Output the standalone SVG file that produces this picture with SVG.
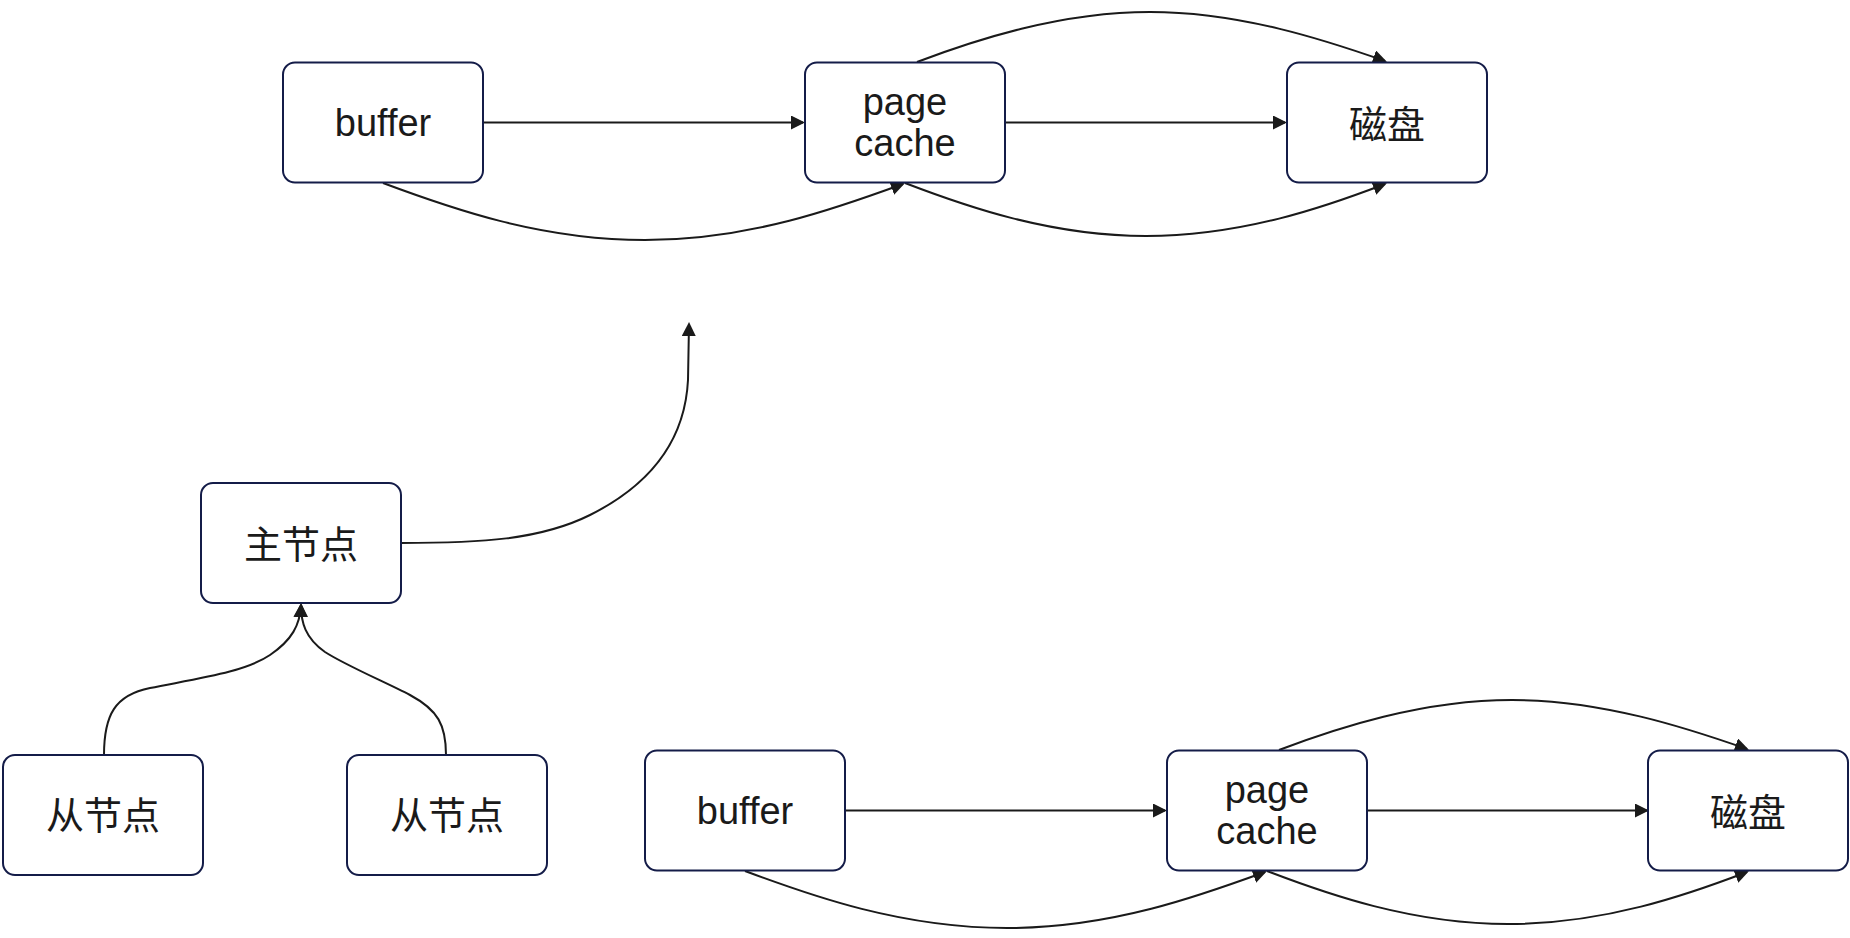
<svg xmlns="http://www.w3.org/2000/svg" width="1850" height="938" viewBox="0 0 1850 938">
<style>
.box{fill:#ffffff;stroke:#141c48;stroke-width:2}
.lbl{font-family:"Liberation Sans","Noto Sans CJK SC",sans-serif;font-size:38px;fill:#1a1a1a;text-anchor:middle}
.cjk{font-family:"Noto Sans CJK SC","Liberation Sans",sans-serif;font-size:38px;fill:#1a1a1a;text-anchor:middle}
.edge{fill:none;stroke:#1a1a1a;stroke-width:2;marker-end:url(#arr)}
</style>
<defs>
<marker id="arr" markerUnits="userSpaceOnUse" markerWidth="16" markerHeight="16" refX="12" refY="7" orient="auto">
<path d="M0,0 L14,7 L0,14 z" fill="#1a1a1a"/>
</marker>
</defs>
<rect width="1850" height="938" fill="#ffffff"/>
<g id="connectors">
<path class="edge" d="M483,122.5 L803,122.5"/>
<path class="edge" d="M1005,122.5 L1285,122.5"/>
<path class="edge" d="M383,183 C 450,208 540,240 645,240 C 750,240 840,207 903,184"/>
<path class="edge" d="M905,183 C 965,206 1050,236 1146,236 C 1242,236 1325,207 1385,184"/>
<path class="edge" d="M917,62 C 975,40 1060,12 1150,12 C 1240,12 1325,40 1385,61"/>
<path class="edge" d="M401,543 C 480,543 540,540 590,515 C 650,485 685,440 688,380 L 689,324"/>
<path class="edge" d="M104,755 C 104,715 115,695 150,688 C 200,678 245,672 270,655 C 292,640 300,625 301,605"/>
<path class="edge" d="M446,755 C 446,725 438,710 410,695 C 385,682 345,665 325,652 C 305,638 301,622 301,605"/>
<path class="edge" d="M845,810.5 L1165,810.5"/>
<path class="edge" d="M1367,810.5 L1647,810.5"/>
<path class="edge" d="M745,871 C 812,896 902,928 1007,928 C 1112,928 1202,895 1265,872"/>
<path class="edge" d="M1267,871 C 1327,894 1412,924 1508,924 C 1604,924 1687,895 1747,872"/>
<path class="edge" d="M1279,750 C 1337,728 1422,700 1512,700 C 1602,700 1687,728 1747,749"/>
</g>
<g id="buffer-top"><rect class="box" x="283" y="62.5" width="200" height="120" rx="12"/><text class="lbl" x="383" y="136">buffer</text></g>
<g id="pagecache-top"><rect class="box" x="805" y="62.5" width="200" height="120" rx="12"/><text class="lbl" x="905" y="115">page</text><text class="lbl" x="905" y="156">cache</text></g>
<g id="disk-top"><rect class="box" x="1287" y="62.5" width="200" height="120" rx="12"/><text class="cjk" x="1387" y="137.5">磁盘</text></g>
<g id="master"><rect class="box" x="201" y="483" width="200" height="120" rx="12"/><text class="cjk" x="301" y="557.5">主节点</text></g>
<g id="slave-1"><rect class="box" x="3" y="755" width="200" height="120" rx="12"/><text class="cjk" x="103" y="829">从节点</text></g>
<g id="slave-2"><rect class="box" x="347" y="755" width="200" height="120" rx="12"/><text class="cjk" x="447" y="829">从节点</text></g>
<g id="buffer-bottom"><rect class="box" x="645" y="750.5" width="200" height="120" rx="12"/><text class="lbl" x="745" y="824">buffer</text></g>
<g id="pagecache-bottom"><rect class="box" x="1167" y="750.5" width="200" height="120" rx="12"/><text class="lbl" x="1267" y="803">page</text><text class="lbl" x="1267" y="844">cache</text></g>
<g id="disk-bottom"><rect class="box" x="1648" y="750.5" width="200" height="120" rx="12"/><text class="cjk" x="1748" y="825.5">磁盘</text></g>
</svg>
